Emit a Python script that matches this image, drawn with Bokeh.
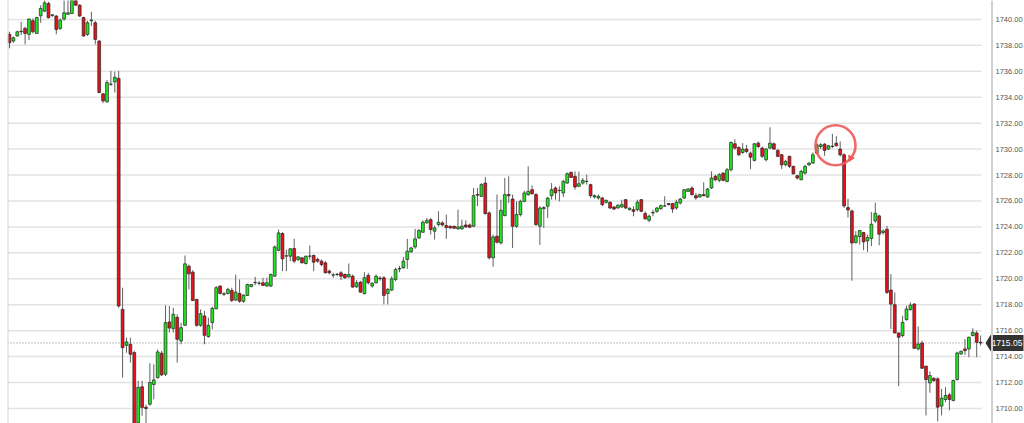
from bokeh.plotting import figure
from bokeh.models import Span, Range1d, ColumnDataSource
from bokeh.core.properties import value
from bokeh.embed import file_html
from bokeh.resources import INLINE

opens = [1738.85, 1738.33, 1738.72, 1739.05, 1739.31, 1738.85, 1739.9, 1738.92, 1740.28, 1740.64,
         1741.23, 1740.3, 1740.26, 1739.31, 1740.03, 1740.4, 1740.46, 1741.7, 1741.1, 1740.15,
         1738.85, 1739.9, 1739.74, 1738.33, 1734.26, 1733.64, 1735.0, 1735.18, 1735.46, 1717.64,
         1714.87, 1714.95, 1714.31, 1708.9, 1711.67, 1710.1, 1710.33, 1711.85, 1712.38, 1714.26,
         1712.64, 1716.67, 1716.15, 1717.03, 1715.2, 1716.41, 1720.97, 1720.51, 1718.41, 1716.41,
         1717.13, 1715.54, 1716.62, 1717.69, 1719.44, 1718.8, 1718.87, 1719.1, 1718.36, 1718.87,
         1718.26, 1718.72, 1719.4, 1719.7, 1719.65, 1719.69, 1719.44, 1719.44, 1720.2, 1722.2,
         1723.49, 1721.75, 1721.74, 1722.33, 1721.49, 1721.62, 1721.18, 1721.74, 1721.8, 1721.49,
         1721.36, 1721.23, 1720.59, 1720.28, 1720.33, 1720.46, 1720.33, 1720.15, 1720.2, 1719.38,
         1719.74, 1718.85, 1720.26, 1719.44, 1719.69, 1720.05, 1720.08, 1718.87, 1719.13, 1719.95,
         1720.75, 1720.85, 1721.49, 1722.08, 1722.46, 1723.15, 1723.59, 1724.31, 1724.56, 1723.67,
         1724.18, 1724.31, 1724.1, 1724.05, 1724.05, 1723.85, 1723.85, 1724.15, 1724.15, 1724.05,
         1726.5, 1726.36, 1727.38, 1725.08, 1721.62, 1723.28, 1722.77, 1724.87, 1726.5, 1726.15,
         1724.05, 1724.95, 1725.97, 1726.49, 1726.87, 1726.49, 1724.05, 1725.4, 1725.59, 1726.41,
         1727.0, 1726.8, 1726.62, 1727.38, 1728.2, 1727.9, 1727.13, 1727.38, 1727.5, 1727.26,
         1726.31, 1726.23, 1726.23, 1725.9, 1725.9, 1725.54, 1725.46, 1725.54, 1726.1, 1725.33,
         1725.33, 1725.33, 1726.1, 1725.03, 1724.51, 1725.08, 1725.2, 1725.41, 1725.6, 1725.8,
         1725.8, 1725.46, 1725.85, 1726.23, 1726.74, 1727.0, 1726.41, 1726.31, 1726.49, 1726.31,
         1727.0, 1727.9, 1727.59, 1728.15, 1727.51, 1728.41, 1730.41, 1730.13, 1729.74, 1730.0,
         1729.69, 1729.13, 1730.46, 1730.08, 1729.18, 1730.08, 1730.41, 1729.9, 1729.56, 1728.79,
         1729.44, 1728.67, 1727.95, 1727.64, 1728.15, 1728.79, 1728.92, 1729.69, 1730.2, 1730.38,
         1730.0, 1730.2, 1730.46, 1730.0, 1729.56, 1725.49, 1725.23, 1722.79, 1723.26, 1723.56,
         1722.92, 1723.1, 1724.46, 1724.85, 1723.56, 1723.82, 1719.13, 1718.0, 1715.82, 1715.62,
         1716.85, 1717.62, 1718.05, 1714.59, 1715.05, 1713.26, 1711.97, 1712.33, 1712.28, 1710.18,
         1710.69, 1711.05, 1710.62, 1712.23, 1714.21, 1714.59, 1714.59, 1715.62, 1715.82, 1715.1]

highs = [1739.05, 1738.67, 1739.13, 1739.82, 1739.44, 1740.08, 1740.08, 1740.2, 1741.1, 1741.5,
         1741.36, 1740.38, 1740.33, 1740.08, 1741.5, 1741.5, 1741.8, 1741.9, 1741.18, 1740.2,
         1739.9, 1740.59, 1739.9, 1738.41, 1734.31, 1735.33, 1736.03, 1735.97, 1736.03, 1719.31,
         1715.46, 1715.46, 1714.45, 1712.13, 1712.13, 1710.3, 1713.49, 1713.4, 1714.56, 1714.44,
         1717.95, 1717.9, 1717.77, 1717.26, 1716.62, 1721.8, 1721.1, 1720.67, 1718.46, 1717.64,
         1717.51, 1717.0, 1717.85, 1719.44, 1719.49, 1718.97, 1719.31, 1719.31, 1720.33, 1719.95,
         1718.8, 1719.62, 1719.6, 1720.15, 1719.82, 1720.08, 1720.08, 1720.41, 1722.56, 1723.8,
         1723.59, 1722.26, 1722.38, 1723.08, 1721.74, 1721.67, 1721.79, 1722.56, 1721.87, 1721.62,
         1721.49, 1721.36, 1720.72, 1720.46, 1720.45, 1720.59, 1720.41, 1721.18, 1720.33, 1719.9,
         1719.82, 1720.51, 1720.46, 1719.74, 1720.33, 1720.2, 1720.2, 1719.3, 1720.2, 1720.85,
         1721.0, 1721.69, 1723.08, 1722.46, 1723.85, 1723.85, 1724.51, 1724.69, 1724.69, 1724.1,
         1725.2, 1724.44, 1724.95, 1724.1, 1724.1, 1725.33, 1724.56, 1724.51, 1724.26, 1727.0,
         1727.0, 1727.38, 1727.85, 1725.2, 1723.41, 1726.49, 1726.1, 1727.77, 1727.9, 1726.49,
         1725.97, 1726.1, 1726.8, 1728.67, 1727.2, 1726.62, 1725.6, 1725.6, 1726.3, 1727.38,
         1727.13, 1727.13, 1727.64, 1728.2, 1728.28, 1728.28, 1728.26, 1727.77, 1728.03, 1727.33,
         1726.5, 1726.49, 1726.31, 1726.1, 1725.97, 1725.6, 1725.75, 1726.1, 1726.15, 1725.5,
         1725.59, 1726.1, 1726.15, 1725.2, 1724.95, 1725.33, 1725.54, 1725.72, 1726.36, 1725.85,
         1725.85, 1726.1, 1726.23, 1726.92, 1727.0, 1727.13, 1726.62, 1726.55, 1727.44, 1727.0,
         1728.28, 1728.03, 1728.15, 1728.2, 1728.54, 1730.59, 1730.77, 1730.2, 1730.46, 1730.33,
         1729.82, 1730.46, 1730.59, 1730.2, 1730.08, 1731.69, 1730.51, 1730.0, 1729.64, 1729.18,
         1729.49, 1728.72, 1728.03, 1728.41, 1728.79, 1729.0, 1729.74, 1730.46, 1730.46, 1730.46,
         1730.33, 1731.18, 1731.0, 1730.59, 1729.69, 1726.18, 1725.33, 1723.67, 1723.77, 1723.62,
         1723.41, 1725.15, 1725.87, 1724.95, 1723.8, 1724.08, 1720.36, 1718.95, 1715.87, 1717.15,
         1717.92, 1718.18, 1718.13, 1716.33, 1715.23, 1713.31, 1712.85, 1712.4, 1712.41, 1711.51,
         1711.64, 1711.21, 1712.23, 1714.38, 1714.46, 1715.36, 1715.54, 1716.18, 1716.0, 1715.62]

lows = [1737.77, 1738.2, 1738.67, 1738.8, 1738.08, 1738.41, 1738.92, 1738.87, 1739.74, 1740.59,
        1740.08, 1740.2, 1738.85, 1739.18, 1739.9, 1740.33, 1740.4, 1741.03, 1740.2, 1738.67,
        1738.72, 1739.49, 1738.08, 1734.31, 1733.54, 1733.59, 1734.87, 1734.36, 1717.77, 1712.38,
        1714.3, 1713.54, 1708.5, 1708.6, 1709.44, 1708.8, 1710.2, 1710.7, 1712.3, 1712.5,
        1712.5, 1715.85, 1715.85, 1713.54, 1714.95, 1716.36, 1719.18, 1718.28, 1716.3, 1716.3,
        1714.95, 1715.46, 1716.1, 1717.64, 1718.8, 1718.67, 1718.8, 1718.2, 1718.28, 1718.15,
        1718.15, 1718.67, 1719.35, 1719.5, 1719.5, 1719.44, 1719.4, 1719.36, 1720.15, 1722.13,
        1720.59, 1720.59, 1721.36, 1721.23, 1721.36, 1721.18, 1721.1, 1721.49, 1720.59, 1721.23,
        1720.97, 1720.41, 1720.33, 1720.08, 1720.2, 1719.9, 1720.0, 1720.08, 1719.31, 1719.31,
        1718.92, 1718.8, 1719.56, 1719.31, 1719.64, 1719.85, 1718.03, 1718.03, 1719.05, 1719.8,
        1720.5, 1720.77, 1720.77, 1722.0, 1722.31, 1723.08, 1723.54, 1724.26, 1723.41, 1723.03,
        1724.05, 1724.05, 1723.08, 1723.87, 1723.85, 1723.79, 1723.79, 1723.92, 1723.92, 1724.0,
        1725.6, 1726.3, 1724.95, 1721.49, 1720.92, 1722.72, 1722.64, 1724.82, 1725.85, 1722.38,
        1723.92, 1724.8, 1725.9, 1726.4, 1726.5, 1724.1, 1722.6, 1723.92, 1724.69, 1726.1,
        1726.1, 1725.97, 1726.31, 1727.33, 1727.77, 1726.87, 1727.08, 1727.26, 1727.26, 1726.23,
        1726.2, 1726.1, 1725.59, 1725.8, 1725.38, 1725.3, 1725.4, 1725.46, 1725.38, 1725.28,
        1724.82, 1725.2, 1725.13, 1724.56, 1724.36, 1724.82, 1725.08, 1725.33, 1725.59, 1725.65,
        1725.08, 1725.33, 1725.72, 1726.15, 1726.7, 1726.41, 1726.1, 1726.25, 1726.36, 1726.23,
        1726.92, 1727.51, 1727.44, 1727.51, 1727.44, 1728.28, 1729.95, 1729.49, 1729.64, 1729.69,
        1728.46, 1729.05, 1730.08, 1729.31, 1729.05, 1730.0, 1729.95, 1729.38, 1728.46, 1728.67,
        1728.54, 1728.03, 1727.64, 1727.59, 1728.03, 1728.7, 1728.87, 1729.64, 1730.0, 1729.49,
        1729.95, 1730.08, 1730.2, 1729.44, 1725.46, 1724.72, 1719.85, 1722.72, 1722.64, 1722.2,
        1722.08, 1722.51, 1724.31, 1722.59, 1723.41, 1718.82, 1716.13, 1715.8, 1711.72, 1715.49,
        1716.77, 1717.54, 1714.59, 1714.46, 1713.05, 1709.46, 1711.21, 1712.05, 1709.0, 1709.46,
        1710.49, 1709.85, 1710.54, 1712.15, 1714.13, 1714.13, 1713.95, 1715.56, 1713.95, 1714.85]

closes = [1738.2, 1738.59, 1739.05, 1739.1, 1738.92, 1740.03, 1739.05, 1740.15, 1740.85, 1741.28,
          1740.13, 1740.36, 1739.23, 1739.95, 1740.51, 1740.51, 1741.6, 1741.1, 1740.26, 1738.72,
          1739.74, 1739.95, 1738.46, 1734.36, 1733.72, 1735.13, 1735.02, 1735.54, 1717.9, 1714.69,
          1715.13, 1714.18, 1708.8, 1711.62, 1710.08, 1710.0, 1712.0, 1712.2, 1714.36, 1712.59,
          1716.62, 1716.2, 1717.26, 1715.33, 1716.23, 1721.15, 1720.38, 1718.33, 1716.41, 1717.31,
          1715.64, 1716.41, 1717.72, 1719.31, 1718.87, 1718.85, 1719.18, 1718.33, 1718.97, 1718.26,
          1718.74, 1719.56, 1719.56, 1719.72, 1719.67, 1719.49, 1719.69, 1720.33, 1722.46, 1723.54,
          1721.54, 1721.77, 1722.31, 1721.36, 1721.69, 1721.23, 1721.74, 1721.76, 1721.28, 1721.36,
          1721.1, 1720.46, 1720.46, 1720.3, 1720.35, 1720.2, 1720.08, 1720.33, 1719.36, 1719.69,
          1718.97, 1720.08, 1719.69, 1719.64, 1720.2, 1720.0, 1718.72, 1719.18, 1720.0, 1720.72,
          1720.8, 1721.36, 1722.13, 1722.38, 1723.08, 1723.72, 1724.36, 1724.51, 1723.8, 1723.92,
          1724.36, 1724.15, 1723.95, 1723.92, 1723.9, 1724.0, 1724.05, 1724.0, 1723.97, 1726.41,
          1726.45, 1727.26, 1725.03, 1721.62, 1723.23, 1722.82, 1725.28, 1726.49, 1726.4, 1724.05,
          1724.95, 1725.97, 1726.62, 1726.74, 1726.56, 1724.18, 1725.46, 1725.5, 1726.23, 1726.87,
          1726.62, 1726.82, 1727.51, 1728.1, 1727.82, 1727.08, 1727.33, 1727.59, 1727.52, 1726.41,
          1726.41, 1726.36, 1725.72, 1726.05, 1725.46, 1725.38, 1725.67, 1725.72, 1725.46, 1725.44,
          1725.2, 1725.9, 1725.2, 1724.62, 1724.82, 1725.12, 1725.46, 1725.64, 1725.62, 1725.72,
          1725.38, 1725.9, 1726.15, 1726.87, 1726.92, 1726.49, 1726.23, 1726.49, 1726.41, 1726.92,
          1727.77, 1727.64, 1728.03, 1727.59, 1728.41, 1730.51, 1730.08, 1729.56, 1730.0, 1729.82,
          1729.38, 1730.41, 1730.2, 1729.44, 1730.0, 1730.46, 1730.0, 1729.44, 1728.79, 1729.05,
          1728.67, 1728.1, 1727.77, 1728.28, 1728.67, 1728.92, 1729.56, 1730.33, 1730.33, 1729.9,
          1730.26, 1730.23, 1730.26, 1729.56, 1725.62, 1725.31, 1722.76, 1723.31, 1723.72, 1722.85,
          1723.18, 1724.21, 1725.05, 1723.44, 1723.69, 1718.95, 1718.05, 1715.82, 1715.49, 1716.64,
          1717.67, 1717.97, 1714.64, 1714.97, 1713.1, 1712.23, 1712.54, 1712.15, 1710.1, 1710.79,
          1711.0, 1710.69, 1712.15, 1714.28, 1714.41, 1714.46, 1715.49, 1715.87, 1715.1, 1715.05]

price_ticks = [1710, 1712, 1714, 1716, 1718, 1720, 1722, 1724, 1726, 1728,
               1730, 1732, 1734, 1736, 1738, 1740]
tick_labels = [f"{t:.2f}" for t in price_ticks]
last_price = 1715.05
marked_candle = 211.8      # centre of the hand-drawn circle (candle index)
marked_price = 1730.3

# ---- layout (pixels) ----
LEFT, FRAME_W, FRAME_H = 7, 1017, 423
PX_PER_CANDLE = 3.9
X0 = -0.51
X1 = X0 + FRAME_W / PX_PER_CANDLE
Y0, Y1 = 1708.84, 1741.46
PX_PER_UNIT = FRAME_H / (Y1 - Y0)


def px_to_x(px):
    """page pixel column -> x data coordinate"""
    return X0 + (px - LEFT) / PX_PER_CANDLE


GRID_END = px_to_x(981)
AXIS_X = px_to_x(991.5)
LABEL_X = px_to_x(995)
TAG_TIP, TAG_L, TAG_R = px_to_x(985), px_to_x(990), px_to_x(1023)
TAG_H = 8 / PX_PER_UNIT

idx = list(range(len(opens)))
up = [c >= o for o, c in zip(opens, closes)]
src = ColumnDataSource(dict(
    x=idx, o=opens, h=highs, l=lows, c=closes,
    top=[max(o, c) for o, c in zip(opens, closes)],
    bottom=[min(o, c) for o, c in zip(opens, closes)],
    color=["#1fea1f" if u else "#e8121a" for u in up],
))

p = figure(frame_width=FRAME_W, frame_height=FRAME_H,
           x_range=Range1d(X0, X1), y_range=Range1d(Y0, Y1),
           x_axis_location=None, y_axis_location=None,
           toolbar_location=None, output_backend="svg",
           min_border_left=LEFT, min_border_top=0, min_border_bottom=0,
           min_border_right=0, outline_line_color=None,
           background_fill_color="white", border_fill_color="white")
p.grid.visible = False

# horizontal grid lines (stop short of the price scale, as in the original)
p.segment(x0=[X0] * len(price_ticks), y0=price_ticks,
          x1=[GRID_END] * len(price_ticks), y1=price_ticks,
          line_color="#e3e3e3", line_width=1.5)

# frame borders / price scale line
p.add_layout(Span(location=X0, dimension="height", line_color="#d4d4d4", line_width=2))
p.add_layout(Span(location=AXIS_X, dimension="height", line_color="#d0d0d0", line_width=2))

# price scale labels
p.text(x=[LABEL_X] * len(price_ticks), y=price_ticks, text=tick_labels,
       text_align="left", text_baseline="middle", text_color="#555555",
       text_font=value("Liberation Sans"), text_font_size="7.5px")

# last price dotted line
p.segment(x0=[X0], y0=[last_price], x1=[TAG_TIP], y1=[last_price],
          line_color="#808080", line_dash="1 2", line_width=1)

# candles
p.segment(x0="x", y0="h", x1="x", y1="l", source=src, line_color="#606060", line_width=1)
p.vbar(x="x", width=0.72, top="top", bottom="bottom", source=src,
       fill_color="color", line_color="#222222", line_width=0.7)

# hand drawn highlight circle
p.circle(x=[marked_candle], y=[marked_price], radius=20, radius_units="screen",
         fill_color=None, line_color="#f05a5a", line_width=2.6, line_alpha=0.9)
p.scatter(x=[marked_candle + 3.9], y=[marked_price - 1.0], marker="triangle", size=6,
          angle=0.6, fill_color="#f05a5a", line_color="#f05a5a")

# last-price tag
p.patch(x=[TAG_TIP, TAG_L, TAG_R, TAG_R, TAG_L],
        y=[last_price, last_price + TAG_H, last_price + TAG_H,
           last_price - TAG_H, last_price - TAG_H],
        fill_color="#333333", line_color=None)
p.text(x=[(TAG_L + TAG_R) / 2], y=[last_price], text=[f"{last_price:.2f}"],
       text_align="center", text_baseline="middle", text_color="white",
       text_font=value("Liberation Sans"), text_font_size="8.5px")

open("out.html", "w").write(file_html(p, INLINE))
